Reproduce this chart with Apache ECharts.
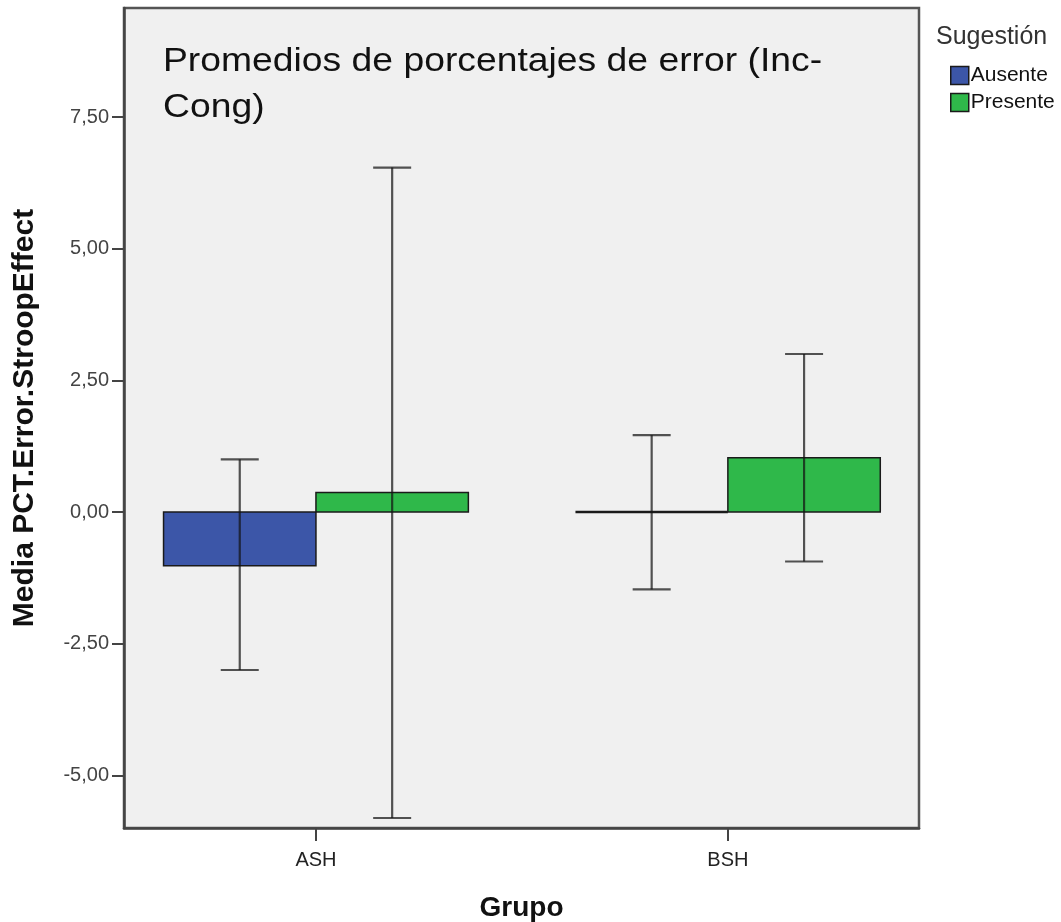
<!DOCTYPE html>
<html>
<head>
<meta charset="utf-8">
<script src="https://cdn.jsdelivr.net/npm/echarts@6/dist/echarts.min.js"></script>
<style>
  html, body { margin: 0; padding: 0; background: #ffffff; }
  #chart { width: 1061px; height: 922px; }
</style>
</head>
<body>
<div id="chart"></div>
<script>
// ---- data ----
const categories = ['ASH', 'BSH'];
const seriesNames = ['Ausente', 'Presente'];
const means = {
  Ausente:  [-1.02, 0.00],
  Presente: [ 0.37, 1.03]
};
const ciLow = {
  Ausente:  [-3.00, -1.47],
  Presente: [-5.81, -0.94]
};
const ciHigh = {
  Ausente:  [1.00, 1.46],
  Presente: [6.54, 3.00]
};
const yTicks = [-5, -2.5, 0, 2.5, 5, 7.5];
const colors = { Ausente: '#3C56A8', Presente: '#2FB84A' };
const chartTitle = 'Promedios de porcentajes de error (Inc-\nCong)';

// ---- build ----
const FONT = '"Liberation Sans", Arial, sans-serif';
const BAR_W = 0.37; // bar width in category units
const chart = echarts.init(document.getElementById('chart'), null, { renderer: 'canvas' });

function barSeries(name, idx) {
  return {
    name: name,
    type: 'custom',
    itemStyle: { color: colors[name], borderColor: '#222', borderWidth: 1.5 },
    data: categories.map((c, i) => [i, means[name][i]]),
    encode: { x: 0, y: 1 },
    renderItem: function (params, api) {
      const x = api.value(0), v = api.value(1);
      const x0 = idx === 0 ? x - BAR_W : x;
      const x1 = idx === 0 ? x : x + BAR_W;
      const p0 = api.coord([x0, 0]);
      const p1 = api.coord([x1, v]);
      return {
        type: 'rect',
        shape: { x: p0[0], y: Math.min(p0[1], p1[1]), width: p1[0] - p0[0], height: Math.abs(p1[1] - p0[1]) },
        style: { fill: colors[name], stroke: '#1a1a1a', lineWidth: v === 0 ? 2.5 : 1.5 }
      };
    },
    z: 2
  };
}

function errSeries(name, idx) {
  return {
    name: name + ' IC',
    type: 'custom',
    data: categories.map((c, i) => [i, ciLow[name][i], ciHigh[name][i]]),
    encode: { x: 0, y: [1, 2] },
    renderItem: function (params, api) {
      const x = api.value(0) + (idx === 0 ? -BAR_W / 2 : BAR_W / 2);
      const lo = api.coord([x, api.value(1)]);
      const hi = api.coord([x, api.value(2)]);
      const cap = 19;
      const st = { stroke: 'rgba(20,20,20,0.72)', lineWidth: 2.2 };
      return {
        type: 'group',
        children: [
          { type: 'line', shape: { x1: hi[0], y1: hi[1], x2: lo[0], y2: lo[1] }, style: st },
          { type: 'line', shape: { x1: hi[0] - cap, y1: hi[1], x2: hi[0] + cap, y2: hi[1] }, style: st },
          { type: 'line', shape: { x1: lo[0] - cap, y1: lo[1], x2: lo[0] + cap, y2: lo[1] }, style: st }
        ]
      };
    },
    z: 3
  };
}

const option = {
  animation: false,
  backgroundColor: '#ffffff',
  title: [
    {
      text: 'Sugestión',
      left: 931, top: 20,
      textStyle: { fontFamily: FONT, fontSize: 25, fontWeight: 'normal', color: '#333' }
    }
  ],
  graphic: [
    {
      type: 'text',
      left: 163, top: 39,
      scaleX: 1.13,
      z: 10,
      style: { text: chartTitle, fontFamily: FONT, fontSize: 33, fill: '#111', lineHeight: 46 }
    }
  ],
  legend: {
    data: seriesNames.map(n => ({ name: n, itemStyle: { color: colors[n], borderColor: '#1a1a1a', borderWidth: 1.5 } })),
    orient: 'vertical',
    left: 950, top: 65, padding: 0,
    itemWidth: 18, itemHeight: 18, itemGap: 6,
    icon: 'rect',
    textStyle: { fontFamily: FONT, fontSize: 21, color: '#111', padding: [0, 0, 0, -3] },
    selectedMode: false
  },
  grid: {
    left: 124, right: 142, top: 8, bottom: 94,
    outerBoundsMode: 'none',
    containLabel: false,
    show: true, backgroundColor: '#F0F0F0', borderColor: '#555', borderWidth: 2.5
  },
  xAxis: {
    type: 'value',
    min: -0.466, max: 1.464,
    name: 'Grupo', nameLocation: 'middle', nameGap: 66,
    nameTextStyle: { fontFamily: FONT, fontSize: 28, fontWeight: 'bold', color: '#111' },
    axisLine: { show: true, onZero: false, lineStyle: { color: '#444', width: 2.5 } },
    splitLine: { show: false },
    axisTick: { show: true, customValues: [0, 1], length: 13, lineStyle: { color: '#444', width: 2 } },
    axisLabel: {
      customValues: [0, 1],
      formatter: v => categories[Math.round(v)] || '',
      fontFamily: FONT, fontSize: 20, color: '#222', margin: 22
    }
  },
  yAxis: {
    type: 'value',
    min: -6.0, max: 9.57,
    name: 'Media PCT.Error.StroopEffect', nameLocation: 'middle', nameGap: 84, nameRotate: 90,
    nameTextStyle: { fontFamily: FONT, fontSize: 30, fontWeight: 'bold', color: '#111' },
    axisLine: { show: true, onZero: false, lineStyle: { color: '#444', width: 2.5 } },
    splitLine: { show: false },
    axisTick: { show: true, customValues: yTicks, length: 12, lineStyle: { color: '#444', width: 2 } },
    axisLabel: {
      customValues: yTicks,
      formatter: v => v.toFixed(2).replace('.', ','),
      fontFamily: FONT, fontSize: 20, color: '#444', margin: 15
    }
  },
  series: [
    barSeries('Ausente', 0),
    barSeries('Presente', 1),
    errSeries('Ausente', 0),
    errSeries('Presente', 1)
  ]
};
chart.setOption(option);
</script>
</body>
</html>
